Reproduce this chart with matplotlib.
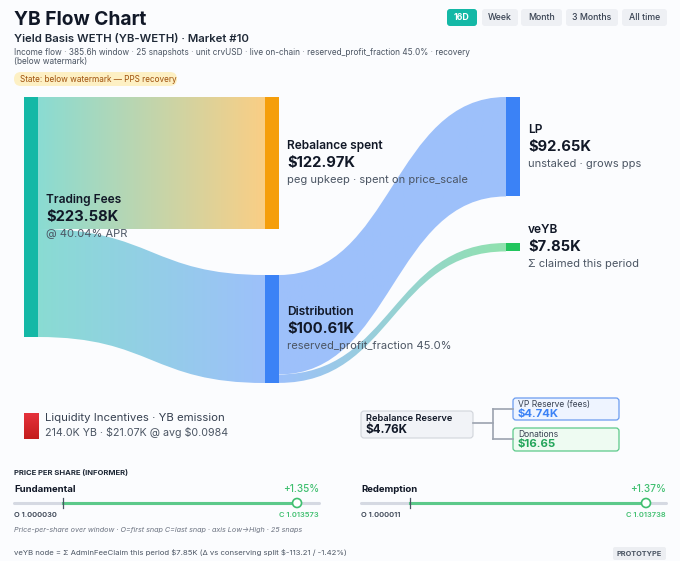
import numpy as np
import matplotlib.pyplot as plt
from matplotlib.path import Path
from matplotlib.patches import PathPatch, FancyBboxPatch, Rectangle, Circle
from matplotlib.colors import to_rgb

plt.rcParams['font.family'] = ['Inter', 'DejaVu Sans']
plt.rcParams['text.parse_math'] = False

# ---- data ----
node_names = ['Trading Fees', 'Rebalance spent', 'Distribution', 'LP', 'veYB']
node_values = [223.58, 122.97, 100.61, 92.65, 7.85]  # $K
node_amounts = ['$223.58K', '$122.97K', '$100.61K', '$92.65K', '$7.85K']
node_notes = ['@ 40.04% APR', 'peg upkeep · spent on price_scale',
              'reserved_profit_fraction 45.0%', 'unstaked · grows pps',
              'Σ claimed this period']
node_colors = ['#14b8a6', '#f59e0b', '#3b82f6', '#3b82f6', '#22c55e']
node_col = [0, 1, 1, 2, 2]
node_top = [97, 97, 275, 97, 243]   # layout (px)
flows = [(0, 1, 122.97), (0, 2, 100.61), (2, 3, 92.65), (2, 4, 7.85)]

ranges = ['16D', 'Week', 'Month', '3 Months', 'All time']

pps_names = ['Fundamental', 'Redemption']
pps_open = [1.000030, 1.000011]
pps_close = [1.013573, 1.013738]
pps_low = [0.997194, 0.997160]
pps_high = [1.014844, 1.014902]

reserve_total = '$4.76K'
vp_reserve = '$4.74K'
donations = '$16.65'

# ---- figure ----
W, H = 680, 561
fig = plt.figure(figsize=(6.8, 5.61), dpi=100)
fig.patch.set_facecolor('#fbfcfe')
ax = fig.add_axes([0, 0, 1, 1])
ax.set_xlim(0, W)
ax.set_ylim(H, 0)
ax.axis('off')

DARK = '#111827'
GRAY = '#4b5563'
LGRAY = '#6b7280'

# header
ax.text(14, 20, 'YB Flow Chart', fontsize=13.8, fontweight='bold', color=DARK, va='center')
ax.text(14, 39, 'Yield Basis WETH (YB-WETH) · Market #10', fontsize=8.2, fontweight='semibold',
        color='#1f2937', va='center')
ax.text(14, 52, 'Income flow · 385.6h window · 25 snapshots · unit crvUSD · live on-chain · '
        'reserved_profit_fraction 45.0% · recovery', fontsize=5.95, color=GRAY, va='center')
ax.text(14, 61, '(below watermark)', fontsize=5.95, color=GRAY, va='center')
ax.add_patch(FancyBboxPatch((14, 72), 163, 14, boxstyle='round,pad=0,rounding_size=7',
                            fc='#fdf0c4', ec='none'))
ax.text(20, 79.5, 'State: below watermark — PPS recovery', fontsize=5.9, color='#a0520d', va='center')

# range buttons
bx = [447, 482, 521, 566, 622]
bw = [30, 36, 41, 52, 45]
for i, r in enumerate(ranges):
    active = i == 0
    ax.add_patch(FancyBboxPatch((bx[i], 9), bw[i], 17, boxstyle='round,pad=0,rounding_size=3',
                                fc='#14b8a6' if active else '#eef0f4', ec='none'))
    ax.text(bx[i] + bw[i] / 2, 17.5, r, fontsize=6.3, ha='center', va='center',
            color='white' if active else '#374151', fontweight='bold' if active else 'medium')

# ---- sankey ----
scale = 240 / node_values[0]
col_x = [24, 265, 506]
nw = 14


def mix(c, a):
    c = np.array(to_rgb(c))
    return c * a + (1 - a)


def band(x0, y0t, y0b, x1, y1t, y1b, c0, c1):
    xm = (x0 + x1) / 2
    verts = [(x0, y0t), (xm, y0t), (xm, y1t), (x1, y1t), (x1, y1b),
             (xm, y1b), (xm, y0b), (x0, y0b), (x0, y0t)]
    codes = [Path.MOVETO, Path.CURVE4, Path.CURVE4, Path.CURVE4, Path.LINETO,
             Path.CURVE4, Path.CURVE4, Path.CURVE4, Path.CLOSEPOLY]
    patch = PathPatch(Path(verts, codes), fc='none', ec='none')
    ax.add_patch(patch)
    t = np.linspace(0, 1, 256)[None, :, None]
    grad = mix(c0, 0.5)[None, None, :] * (1 - t) + mix(c1, 0.5)[None, None, :] * t
    ymin, ymax = min(y0t, y1t), max(y0b, y1b)
    im = ax.imshow(grad, extent=(x0, x1, ymax, ymin), aspect='auto', zorder=1,
                   interpolation='bilinear')
    im.set_clip_path(patch)


out_off = [0.0] * len(node_names)
in_off = [0.0] * len(node_names)
for s, d, v in flows:
    h = v * scale
    y0 = node_top[s] + out_off[s]
    y1 = node_top[d] + in_off[d]
    band(col_x[node_col[s]] + nw, y0, y0 + h, col_x[node_col[d]], y1, y1 + h,
         node_colors[s], node_colors[d])
    out_off[s] += h
    in_off[d] += h

for i, name in enumerate(node_names):
    h = node_values[i] * scale
    x = col_x[node_col[i]]
    ax.add_patch(Rectangle((x, node_top[i]), nw, h, fc=node_colors[i], ec='none', zorder=3))
    cy = node_top[i] + h / 2
    tx = x + nw + 8
    ax.text(tx, cy - 17, name, fontsize=8.6, fontweight='semibold', color=DARK, va='center', zorder=4)
    ax.text(tx, cy, node_amounts[i], fontsize=10.6, fontweight='bold', color=DARK, va='center', zorder=4)
    ax.text(tx, cy + 17, node_notes[i], fontsize=8.0, color=GRAY, va='center', zorder=4)

# ---- liquidity incentives ----
red = np.linspace(0, 1, 64)[:, None, None]
red_grad = np.array(to_rgb('#e5323c'))[None, None, :] * (1 - red) + \
    np.array(to_rgb('#c41d1d'))[None, None, :] * red
ax.imshow(red_grad, extent=(24, 39, 439, 413), aspect='auto', interpolation='bilinear', zorder=2)
ax.text(45, 418, 'Liquidity Incentives · YB emission', fontsize=8.2, color='#374151', va='center')
ax.text(45, 432, '214.0K YB · $21.07K @ avg $0.0984', fontsize=7.7, color=GRAY, va='center')

# ---- reserve tree ----
ax.plot([473, 493], [423, 423], color='#9ca3af', lw=1.2)
ax.plot([493, 493], [409, 439], color='#9ca3af', lw=1.2)
ax.plot([493, 513], [409, 409], color='#9ca3af', lw=1.2)
ax.plot([493, 513], [439, 439], color='#9ca3af', lw=1.2)
ax.add_patch(FancyBboxPatch((361, 411), 112, 27, boxstyle='round,pad=0,rounding_size=3',
                            fc='#f1f3f7', ec='#d1d5db', lw=0.8))
ax.text(366, 418, 'Rebalance Reserve', fontsize=6.7, fontweight='semibold', color=DARK, va='center')
ax.text(366, 430, reserve_total, fontsize=8.4, fontweight='bold', color=DARK, va='center')
ax.add_patch(FancyBboxPatch((513, 398), 106, 22, boxstyle='round,pad=0,rounding_size=3',
                            fc='#eef4ff', ec='#6a9cf0', lw=0.9))
ax.text(518, 404, 'VP Reserve (fees)', fontsize=6.1, color='#374151', va='center')
ax.text(518, 413.5, vp_reserve, fontsize=8.2, fontweight='bold', color='#3b82f6', va='center')
ax.add_patch(FancyBboxPatch((513, 428), 106, 23, boxstyle='round,pad=0,rounding_size=3',
                            fc='#eefbf2', ec='#5cc98a', lw=0.9))
ax.text(518, 434, 'Donations', fontsize=6.1, color='#374151', va='center')
ax.text(518, 443.5, donations, fontsize=8.2, fontweight='bold', color='#22a55a', va='center')

# ---- price per share ----
ax.text(14, 472, 'PRICE PER SHARE (INFORMER)', fontsize=5.5, fontweight='bold', color='#1f2937', va='center')
GREEN = '#3fbf6f'
for k, name in enumerate(pps_names):
    x0 = 14 + k * 347
    x1 = x0 + 305
    lo, hi = pps_low[k], pps_high[k]
    po = x0 + (pps_open[k] - lo) / (hi - lo) * (x1 - x0)
    pc = x0 + (pps_close[k] - lo) / (hi - lo) * (x1 - x0)
    chg = (pps_close[k] / pps_open[k] - 1) * 100
    ax.text(x0, 489, name, fontsize=6.9, fontweight='bold', color=DARK, va='center')
    ax.text(x1, 489, f'+{chg:.2f}%', fontsize=7.2, fontweight='medium', color=GREEN, ha='right', va='center')
    ax.plot([x0, x1], [503, 503], color='#d5d9e2', lw=2.2, solid_capstyle='round')
    ax.plot([po, pc], [503, 503], color='#5cc98a', lw=2.2)
    ax.plot([po, po], [498, 508], color='#4b5563', lw=0.9)
    ax.add_patch(Circle((pc, 503), 4.5, fc='white', ec=GREEN, lw=1.2, zorder=5))
    ax.text(x0, 515, f'O {pps_open[k]:.6f}', fontsize=5.4, fontweight='semibold', color='#374151', va='center')
    ax.text(x1, 515, f'C {pps_close[k]:.6f}', fontsize=5.4, fontweight='semibold', color=GREEN,
            ha='right', va='center')

ax.text(14, 530, 'Price-per-share over window · O=first snap C=last snap · axis Low→High · 25 snaps',
        fontsize=5.2, style='italic', color=LGRAY, va='center')
ax.text(14, 552, 'veYB node = Σ AdminFeeClaim this period $7.85K (Δ vs conserving split $-113.21 / -1.42%)',
        fontsize=5.6, color=GRAY, va='center')
ax.add_patch(FancyBboxPatch((613, 547), 53, 13, boxstyle='round,pad=0,rounding_size=2',
                            fc='#eceef2', ec='none'))
ax.text(639.5, 553.5, 'PROTOTYPE', fontsize=5.3, fontweight='bold', color='#4b5563',
        ha='center', va='center')

fig.savefig('out.png', dpi=100, facecolor=fig.get_facecolor())
